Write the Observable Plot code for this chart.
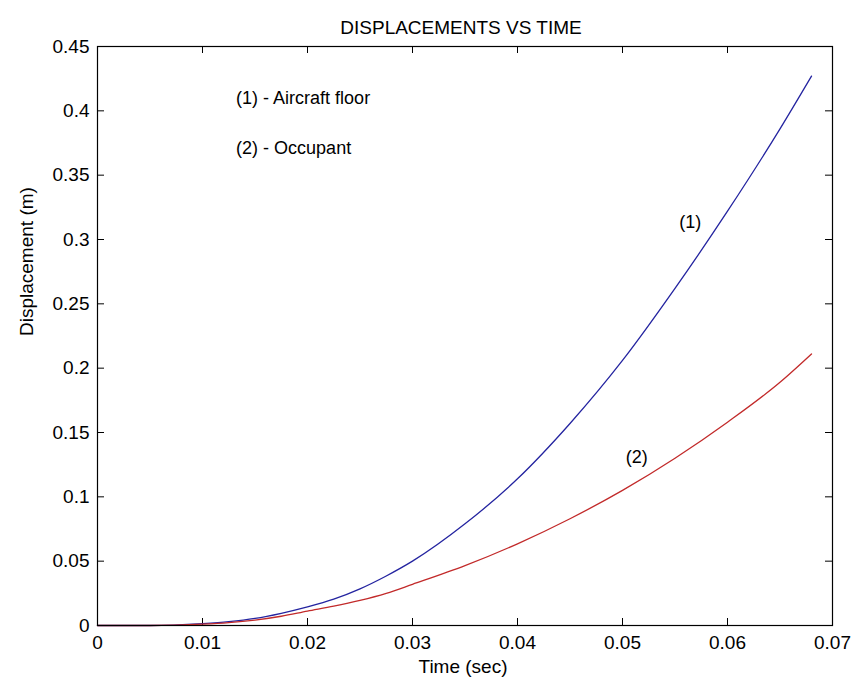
<!DOCTYPE html>
<html>
<head>
<meta charset="utf-8">
<script src="https://cdn.jsdelivr.net/npm/d3@7"></script>
<script src="https://cdn.jsdelivr.net/npm/@observablehq/plot@0.6"></script>
<style>
  html, body { margin: 0; padding: 0; background: #fff; }
  #chart svg { display: block; }
</style>
</head>
<body>
<div id="chart"></div>
<script>
// ---- data ----
const time = [0, 0.005, 0.01, 0.0125, 0.015, 0.0175, 0.02, 0.0225, 0.025, 0.0275, 0.03, 0.035, 0.04, 0.045, 0.05, 0.055, 0.06, 0.065, 0.068];
const aircraftFloor = [0, 0, 0.0015, 0.003, 0.0055, 0.0095, 0.0145, 0.0205, 0.0285, 0.0385, 0.050, 0.079, 0.114, 0.157, 0.206, 0.262, 0.322, 0.386, 0.427];
const occupant = [0, 0, 0.001, 0.0022, 0.0042, 0.0072, 0.0112, 0.015, 0.0195, 0.025, 0.032, 0.0465, 0.0635, 0.083, 0.105, 0.130, 0.158, 0.189, 0.211];

const xTicks = [0, 0.01, 0.02, 0.03, 0.04, 0.05, 0.06, 0.07];
const yTicks = [0, 0.05, 0.1, 0.15, 0.2, 0.25, 0.3, 0.35, 0.4, 0.45];

const titleText = "DISPLACEMENTS VS TIME";
const xLabel = "Time (sec)";
const yLabel = "Displacement (m)";

// annotations (data coordinates)
const noteText = ["(1) - Aircraft floor", "(2) - Occupant", "(1)", "(2)"];
const noteX = [0.0132, 0.0132, 0.0554, 0.0503];
const noteY = [0.410, 0.371, 0.3134, 0.1308];

// ---- build tables ----
const floorData = time.map((t, i) => ({t, v: aircraftFloor[i]}));
const occData = time.map((t, i) => ({t, v: occupant[i]}));
const notes = noteText.map((s, i) => ({s, x: noteX[i], y: noteY[i]}));

const W = 856, H = 688;
const mL = 97, mR = 24, mT = 46, mB = 63;
const pw = W - mL - mR, ph = H - mT - mB;
const tick = 7;
const font = "'Liberation Sans', Arial, sans-serif";
const fmt = d => String(d);

const chart = Plot.plot({
  width: W,
  height: H,
  marginLeft: mL,
  marginRight: mR,
  marginTop: mT,
  marginBottom: mB,
  style: {fontFamily: font, fontSize: "19px", color: "#000", background: "#fff", overflow: "visible"},
  x: {domain: [0, 0.07]},
  y: {domain: [0, 0.45]},
  marks: [
    Plot.axisX(xTicks, {tickSize: 0, tickPadding: 10, fontSize: 19, label: null, letterSpacing: 0.8, tickFormat: fmt}),
    Plot.axisY(yTicks, {tickSize: 0, tickPadding: 8, fontSize: 19, label: null, letterSpacing: 0.8, tickFormat: fmt}),
    // inward ticks on all four sides
    Plot.tickX(xTicks, {x: d => d, insetTop: ph - tick, stroke: "#000"}),
    Plot.tickX(xTicks, {x: d => d, insetBottom: ph - tick, stroke: "#000"}),
    Plot.tickY(yTicks, {y: d => d, insetRight: pw - tick, stroke: "#000"}),
    Plot.tickY(yTicks, {y: d => d, insetLeft: pw - tick, stroke: "#000"}),
    Plot.line(floorData, {x: "t", y: "v", stroke: "#2424a0", strokeWidth: 1.3, curve: "monotone-x"}),
    Plot.line(occData, {x: "t", y: "v", stroke: "#c22a2a", strokeWidth: 1.3, curve: "monotone-x"}),
    Plot.text(notes, {x: "x", y: "y", text: "s", textAnchor: "start", fontSize: 18, fill: "#000"}),
    Plot.frame({stroke: "#000", strokeWidth: 1.2}),
    Plot.text([titleText], {frameAnchor: "top", dy: -26, dx: -4, fontSize: 19, letterSpacing: 1.4, fill: "#000"}),
    Plot.text([xLabel], {frameAnchor: "bottom", dy: 47, dx: -2, fontSize: 19, letterSpacing: 0.6, fill: "#000"}),
    Plot.text([yLabel], {frameAnchor: "left", dx: -71, rotate: -90, fontSize: 19, letterSpacing: 0.6, fill: "#000"})
  ]
});
document.getElementById("chart").appendChild(chart);
</script>
</body>
</html>
